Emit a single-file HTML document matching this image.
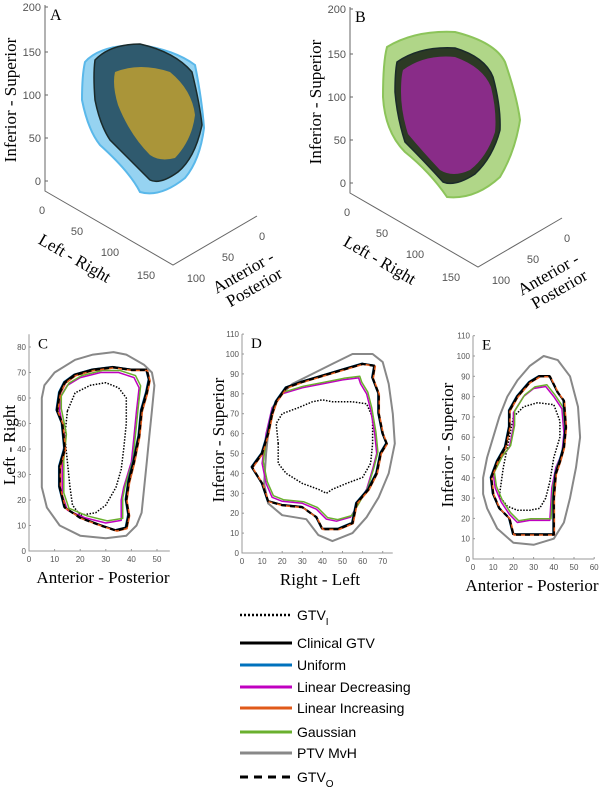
<!DOCTYPE html>
<html><head><meta charset="utf-8"><style>
body{margin:0;background:#fff}
svg{display:block}
.t{font-family:"Liberation Sans",sans-serif;font-size:8px;fill:#555}
.t3{font-family:"Liberation Sans",sans-serif;font-size:11px;fill:#555}
.s{font-family:"Liberation Serif",serif;fill:#000}
.lg{font-family:"Liberation Sans",sans-serif;font-size:14px;fill:#000}
</style></head><body>
<svg id="fig" width="602" height="790" viewBox="0 0 602 790" xmlns="http://www.w3.org/2000/svg">
<g id="p3d"></g>
<g id="p2d"></g>
<g id="legend"></g>
</svg>
<script>
const NS="http://www.w3.org/2000/svg";
// ---------- Panel C data (units) ----------
const cPTV=[[5,60],[6,65],[10,70],[18,75],[25,77],[33,78],[38,77],[45,73],[48,70],[49,65],[48,55],[47,45],[46,35],[45,25],[44,15],[42,10],[38,6],[30,5],[20,6],[12,10],[7,17],[5,25],[5,40],[5,50]];
const cOuter=[[12,62],[14,66],[18,69],[25,71],[33,72],[40,71],[46,71],[47,67],[46,62],[44,55],[43,45],[41,35],[39,27],[38,20],[39,14],[38,9],[34,8],[28,10],[20,13],[14,17],[12,25],[12,33],[14,40],[13,50],[11,55]];
const cInner=[[12,60],[15,65],[20,68],[28,70],[35,70],[41,68],[43,64],[42,55],[41,45],[40,35],[37,25],[36,20],[36,12],[30,11],[22,13],[15,16],[13,22],[13,35],[14,45],[12,55]];
const cGTVI=[[15,55],[18,62],[24,65],[30,66],[35,64],[38,60],[38,50],[37,40],[36,32],[34,25],[30,18],[26,15],[20,14],[17,18],[16,25],[15,35],[14,45]];
const cXTicks=[0,10,20,30,40,50], cYTicks=[0,10,20,30,40,50,60,70,80];
// ---------- Panel D data ----------
const dPTV=[[13,60],[15,70],[18,78],[25,85],[35,90],[45,95],[55,100],[65,100],[70,96],[73,85],[75,70],[76,55],[73,40],[68,28],[62,18],[55,10],[45,6],[38,9],[32,17],[20,19],[13,25],[11,35],[12,50]];
const dOuter=[[15,70],[17,76],[22,83],[30,86],[40,89],[50,92],[60,95],[66,94],[65,88],[68,80],[68,70],[70,60],[72,55],[69,50],[67,40],[63,32],[57,25],[55,15],[48,12],[40,12],[37,18],[30,23],[20,24],[13,26],[10,35],[5,43],[10,50],[13,60]];
const dInner=[[15,73],[20,80],[30,83],[40,85],[50,87],[58,88],[59,85],[62,80],[64,72],[66,60],[67,50],[65,42],[62,32],[58,25],[54,18],[47,16],[42,17],[37,22],[30,25],[20,26],[15,28],[12,35],[10,45],[12,60]];
const dGTVI=[[18,55],[17,65],[20,70],[28,73],[35,76],[40,77],[45,76],[55,76],[62,75],[65,68],[65,55],[64,45],[60,38],[52,35],[45,32],[42,30],[38,32],[30,35],[22,40],[18,45]];
const dXTicks=[0,10,20,30,40,50,60,70], dYTicks=[0,10,20,30,40,50,60,70,80,90,100,110];
// ---------- Panel E data ----------
const ePTV=[[5,40],[7,50],[10,60],[13,70],[17,80],[22,88],[28,95],[35,100],[42,98],[48,90],[52,75],[53,60],[51,45],[48,30],[45,18],[40,10],[30,7],[20,8],[12,15],[7,25],[5,32]];
const eOuter=[[9,40],[12,48],[16,55],[18,65],[18,73],[22,80],[28,87],[33,90],[38,90],[42,82],[45,78],[46,65],[45,55],[43,48],[41,42],[40,30],[40,12],[30,12],[20,12],[18,20],[13,25],[10,32]];
const eInner=[[10,42],[14,50],[18,55],[20,65],[20,72],[25,80],[30,84],[36,85],[40,80],[44,74],[45,62],[44,52],[41,45],[39,35],[38,19],[28,19],[22,18],[18,22],[14,28],[11,35]];
const eGTVI=[[13,31],[15,45],[18,60],[20,70],[25,75],[32,77],[40,76],[43,68],[43,60],[40,50],[38,38],[36,30],[33,25],[28,24],[22,24],[17,26]];
const eXTicks=[0,10,20,30,40,50,60], eYTicks=[0,10,20,30,40,50,60,70,80,90,100,110];
// ---------- legend ----------
const legLabels=["GTV","Clinical GTV","Uniform","Linear Decreasing","Linear Increasing","Gaussian","PTV MvH","GTV"];
const legSub=["I","","","","","","","O"];

function el(tag,attrs,parent,txt){const e=document.createElementNS(NS,tag);for(const k in attrs)e.setAttribute(k,attrs[k]);if(txt!==undefined)e.textContent=txt;parent.appendChild(e);return e;}

function panel(cfg){
  const g=el('g',{},document.getElementById('p2d'));
  
  
  const X=v=>cfg.x0+v*cfg.sx, Y=v=>cfg.y0-v*cfg.sy;
  const ax=el('path',{d:`M${cfg.x0},${Y(cfg.ymax)} V${cfg.y0} H${X(cfg.xmax)}`,fill:'none',stroke:'#999','stroke-width':1},g);
  
  cfg.xt.forEach(v=>{el('line',{x1:X(v),x2:X(v),y1:cfg.y0,y2:cfg.y0-2,stroke:'#999'},g);
    const t=el('text',{x:X(v),y:cfg.y0+11,'text-anchor':'middle',class:'t'},g,v);
    });
  cfg.yt.forEach(v=>{el('line',{x1:cfg.x0,x2:cfg.x0+2,y1:Y(v),y2:Y(v),stroke:'#999'},g);
    const t=el('text',{x:cfg.x0-3,y:Y(v)+3,'text-anchor':'end',class:'t'},g,v);
    });
  const pts=a=>a.map(p=>X(p[0]).toFixed(1)+','+Y(p[1]).toFixed(1)).join(' ');
  const line=(arr,col,w,dash,nm,dx,dy)=>{const p=el('polygon',{points:pts(arr.map(q=>[q[0]+(dx||0),q[1]+(dy||0)])),fill:'none',stroke:col,'stroke-width':w,'stroke-linejoin':'round'},g);if(dash)p.setAttribute('stroke-dasharray',dash);
    };
  line(cfg.ptv,'#888',2,null,'ptv-mvh-contour');
  line(cfg.gtvi,'#000',1.5,'1.5,1.5','gtv-i-contour');
  line(cfg.inner,'#c000c0',1.5,null,'linear-decreasing-contour');
  line(cfg.inner,'#6ab02e',1.5,null,'gaussian-contour',0.6,0.8);
  line(cfg.outer,'#0072bd',1.5,null,'uniform-contour',-0.4,0.3);
  line(cfg.outer,'#000',1.8,null,'clinical-gtv-contour',-0.2,0.2);
  line(cfg.outer,'#e05a1a',1.5,null,'linear-increasing-contour',0.3,-0.2);
  line(cfg.outer,'#000',2.2,'5,4','gtv-o-contour');
  const L=el('text',{x:cfg.x0+9,y:Y(cfg.ymax)+14,class:'s','font-size':15},g,cfg.letter);
  
  const xt=el('text',{x:cfg.xtx,y:cfg.y0+32,'text-anchor':'middle',class:'s','font-size':17},g,cfg.xl);
  
  const yt=el('text',{x:0,y:0,transform:`translate(${cfg.ytx},${cfg.yty}) rotate(-90)`,'text-anchor':'middle',class:'s','font-size':17},g,cfg.yl);
  
}
panel({name:'panel-c',letter:'C',x0:29,y0:551,sx:2.56,sy:2.55,xmax:55,ymax:85,xt:cXTicks,yt:cYTicks,ptv:cPTV,outer:cOuter,inner:cInner,gtvi:cGTVI,xl:'Anterior - Posterior',xtx:103,yl:'Left - Right',ytx:15,yty:445});
panel({name:'panel-d',letter:'D',x0:242,y0:553,sx:2.01,sy:1.99,xmax:75,ymax:110,xt:dXTicks,yt:dYTicks,ptv:dPTV,outer:dOuter,inner:dInner,gtvi:dGTVI,xl:'Right - Left',xtx:320,yl:'Inferior - Superior',ytx:224,yty:440});
panel({name:'panel-e',letter:'E',x0:473,y0:559,sx:2.02,sy:2.03,xmax:60,ymax:110,xt:eXTicks,yt:eYTicks,ptv:ePTV,outer:eOuter,inner:eInner,gtvi:eGTVI,xl:'Anterior - Posterior',xtx:532,yl:'Inferior - Superior',ytx:453,yty:445});

// ---------- 3D panels ----------
function p3d(dx,dy,letter,colors,nm){
  const g=el('g',{transform:`translate(${dx},${dy})`},document.getElementById('p3d'));
  
  el('path',{d:'M45,5 V191 L173,265 L257,216',fill:'none',stroke:'#666','stroke-width':1},g);
  [[200,7],[150,52],[100,95],[50,138],[0,181]].forEach(a=>{el('line',{x1:45,x2:48,y1:a[1],y2:a[1],stroke:'#666'},g);el('text',{x:41,y:a[1]+4,'text-anchor':'end',class:'t3'},g,a[0]);});
  [[0,42,214],[50,77,235],[100,110,256],[150,146,279]].forEach(a=>el('text',{x:a[1],y:a[2],'text-anchor':'middle',class:'t3'},g,a[0]));
  [[0,262,240],[50,228,261],[100,196,282]].forEach(a=>el('text',{x:a[1],y:a[2],'text-anchor':'middle',class:'t3'},g,a[0]));
  const o=el('path',{d:colors.o,fill:colors.oc,'fill-opacity':0.8,stroke:colors.os,'stroke-width':2},g);
  
  const m=el('path',{d:colors.m,fill:colors.mc,stroke:'#1a2a2a','stroke-width':1.5},g);
  
  const i=el('path',{d:colors.i,fill:colors.ic,'fill-opacity':0.85},g);
  
  el('text',{x:50,y:20,class:'s','font-size':16},g,letter);
  el('text',{x:0,y:0,transform:'translate(16,100) rotate(-90)','text-anchor':'middle',class:'s','font-size':17},g,'Inferior - Superior');
  el('text',{x:0,y:0,transform:'translate(72,263) rotate(30)','text-anchor':'middle',class:'s','font-size':17},g,'Left - Right');
  el('text',{x:0,y:0,transform:'translate(246,277) rotate(-30)','text-anchor':'middle',class:'s','font-size':17},g,'Anterior -');
  el('text',{x:0,y:0,transform:'translate(257,292) rotate(-30)','text-anchor':'middle',class:'s','font-size':17},g,'Posterior');
}
p3d(0,0,'A',{
 o:'M85,62 Q100,45 140,45 Q175,50 195,65 Q202,100 204,128 Q200,160 185,178 Q160,198 140,192 Q130,172 100,145 Q88,130 82,100 Q82,75 85,62Z',oc:'#7cc8ee',os:'#5ab8ea',
 m:'M95,60 Q110,44 140,44 Q175,52 192,72 Q200,105 202,125 Q195,158 178,172 Q160,185 150,180 Q130,160 110,140 Q100,125 95,100 Q93,75 95,60Z',mc:'#2f5a6e',
 i:'M115,72 Q140,62 170,72 Q192,90 195,115 Q192,140 175,158 Q160,162 150,155 Q130,135 118,105 Q112,85 115,72Z',ic:'#c0a030'},'panel-a');
p3d(305,2,'B',{
 o:'M82,45 Q110,28 150,30 Q190,40 200,60 Q212,95 215,118 Q210,150 195,175 Q170,198 142,195 Q125,170 100,150 Q80,130 78,95 Q78,60 82,45Z',oc:'#9ccc6a',os:'#8cc45a',
 m:'M92,60 Q115,44 150,46 Q180,55 188,75 Q196,105 195,128 Q188,155 170,172 Q150,185 138,180 Q120,160 100,140 Q92,115 90,90 Q90,70 92,60Z',mc:'#2c3a24',
 i:'M98,68 Q120,52 150,55 Q178,65 186,85 Q192,110 190,130 Q182,155 165,168 Q148,176 135,168 Q118,150 103,132 Q96,110 96,90 Q96,75 98,68Z',ic:'#9a2a9a'},'panel-b');

// ---------- legend ----------
const legCols=['#000','#000','#0072bd','#c000c0','#e05a1a','#6ab02e','#888','#000'];
const legDash=['2,2',null,null,null,null,null,null,'8,6'];
const legY=[615,643,665,687,708,732,753,777];
const lg=document.getElementById('legend');
legLabels.forEach((lab,k)=>{
  const g=el('g',{},lg);
  
  
  const ln=el('line',{x1:240,x2:292,y1:legY[k],y2:legY[k],stroke:legCols[k],'stroke-width':k==0?2.5:3},g);
  if(legDash[k])ln.setAttribute('stroke-dasharray',legDash[k]);
  const t=el('text',{x:297,y:legY[k]+5,class:'lg'},g,lab);
  if(legSub[k]){el('tspan',{'font-size':10,dy:5},t,legSub[k]);}
});
</script>
</body></html>
